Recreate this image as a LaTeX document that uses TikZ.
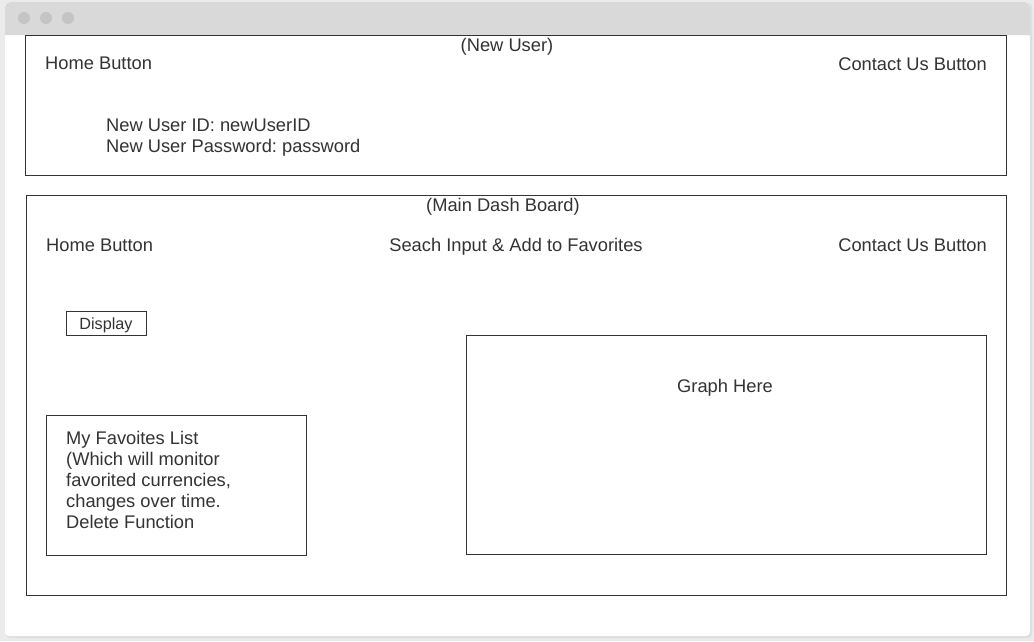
\documentclass[tikz,border=0pt]{standalone}
\usepackage{fontspec}
\setmainfont{Liberation Sans}
\usepackage{xcolor}
\definecolor{frame-grey}{HTML}{EBEBEB}
\definecolor{shadow-grey}{HTML}{DEDEDE}
\definecolor{bar-grey}{HTML}{D9D9D9}
\definecolor{dot-grey}{HTML}{C4C4C4}
\definecolor{ink}{HTML}{333333}
\usepackage{tikz}
\frenchspacing

\tikzset{
    label/.style={text=ink, inner sep=0pt, font=\fontsize{18.3}{21}\selectfont},
    panel/.style={draw=ink, line width=0.9pt},
}

\begin{document}
\begin{tikzpicture}[x=1pt, y=-1pt]

    \useasboundingbox (0, 0) rectangle (1034, 641);

    % Background
    \fill[frame-grey] (0, 0) rectangle (1034, 641);
    \fill[shadow-grey, rounded corners=4] (6, 3) rectangle (1032, 638);
    \fill[white, rounded corners=4] (5, 2) rectangle (1030, 636);

    % Title bar
    \fill[bar-grey, rounded corners=5] (5, 35) -- (5, 2) -- (1030, 2) [sharp corners] -- (1030, 35) -- cycle;
    \foreach \x in {24, 46, 68}
        \fill[dot-grey] (\x, 18) circle (6);

    % New user panel
    \draw[panel] (25, 35) rectangle (1006, 175);
    \node[label, anchor=base] (newuser) at (507, 51.5) {(New User)};
    \node[label, anchor=base west] (homeA) at (45, 69.5) {Home Button};
    \node[label, anchor=base east] (contactA) at (987, 70.5) {Contact Us Button};
    \node[label, anchor=north west, align=left] (creds) at (106, 118.5) {New User ID: newUserID\\New User Password: password};

    % Main dash board panel
    \draw[panel] (26, 195) rectangle (1006, 595);
    \node[label, anchor=base] (dash) at (503, 211.5) {(Main Dash Board)};
    \node[label, anchor=base west] (homeB) at (46, 251.5) {Home Button};
    \node[label, anchor=base] (search) at (516, 251.5) {Seach Input \& Add to Favorites};
    \node[label, anchor=base east] (contactB) at (987, 251.5) {Contact Us Button};

    % Display button
    \draw[panel] (66, 311) rectangle (146, 335);
    \node[label, anchor=base, font=\fontsize{16.2}{19}\selectfont] (display) at (106, 329.5) {Display};

    % Favorites list
    \draw[panel] (46, 415) rectangle (306, 555);
    \node[label, anchor=north west, align=left] (favs) at (66, 431) {My Favoites List\\(Which will monitor\\favorited currencies,\\changes over time.\\Delete Function};

    % Graph
    \draw[panel] (466, 335) rectangle (986, 554);
    \node[label, anchor=base] (graph) at (725, 392.5) {Graph Here};

\end{tikzpicture}
\end{document}
